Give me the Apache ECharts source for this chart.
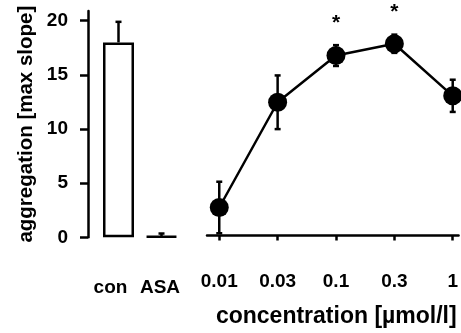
<!DOCTYPE html>
<html><head><meta charset="utf-8">
<script src="https://cdn.jsdelivr.net/npm/echarts@6/dist/echarts.min.js"></script>
<style>html,body{margin:0;padding:0;background:#fff}#c{width:461px;height:333px}</style>
</head><body><div id="c"></div>
<script>
const barCategories = ['con', 'ASA'];
const barMeans = [18.0, 0.1];
const barErrors = [1.9, 0.25];
const concLabels = ['0.01', '0.03', '0.1', '0.3', '1'];
const concMeans = [2.6, 12.4, 16.75, 17.85, 13.0];
const concErrors = [2.4, 2.5, 0.97, 0.85, 1.5];
const significant = ['', '', '*', '*', ''];
const yTicks = [0, 5, 10, 15, 20];
const concTicks = concLabels.map((_, i) => i);

const FONT = '"Liberation Sans", Arial, sans-serif';
const chart = echarts.init(document.getElementById('c'));

function errBar(top, bot, hw) {
  return [
    {type: 'line', shape: {x1: top[0], y1: top[1], x2: bot[0], y2: bot[1]}, style: {stroke: '#000', lineWidth: 2.5}},
    {type: 'line', shape: {x1: top[0] - hw, y1: top[1], x2: top[0] + hw, y2: top[1]}, style: {stroke: '#000', lineWidth: 2.5}},
    {type: 'line', shape: {x1: bot[0] - hw, y1: bot[1], x2: bot[0] + hw, y2: bot[1]}, style: {stroke: '#000', lineWidth: 2.5}}
  ];
}

chart.setOption({
  animation: false,
  textStyle: {fontFamily: FONT},
  grid: [
    {left: 97, top: 11, width: 86, height: 226.3},
    {left: 207, right: 0, top: 11, bottom: 80}
  ],
  xAxis: [
    {
      type: 'category', gridIndex: 0,
      data: barCategories.map((c, i) => ({value: c, textStyle: {padding: i === 0 ? [0, 16, 0, 0] : [0, 3, 0, 0]}})),
      axisLine: {show: false}, axisTick: {show: false},
      axisLabel: {interval: 0, hideOverlap: false, fontSize: 19, fontWeight: 'bold', color: '#000', margin: 41, fontFamily: FONT}
    },
    {
      type: 'value', gridIndex: 1, min: -0.21, max: 4.1,
      axisLine: {show: true, lineStyle: {color: '#000', width: 2.5}},
      axisTick: {show: true, customValues: concTicks, length: 5, lineStyle: {color: '#000', width: 2.5}},
      axisLabel: {customValues: concTicks, formatter: v => concLabels[Math.round(v)], fontSize: 19, fontWeight: 'bold', color: '#000', margin: 21, fontFamily: FONT},
      splitLine: {show: false},
      name: 'concentration [µmol/l]', nameLocation: 'middle', nameGap: 54,
      nameTextStyle: {fontSize: 23, fontWeight: 'bold', color: '#000', fontFamily: FONT, padding: [0, 0, 0, 7]}
    }
  ],
  yAxis: [
    {
      type: 'value', gridIndex: 0, min: 0, max: 20.9, position: 'left', offset: 9,
      axisLine: {show: true, lineStyle: {color: '#000', width: 2.5}},
      axisTick: {show: true, customValues: yTicks, length: 8, lineStyle: {color: '#000', width: 2.5}},
      axisLabel: {customValues: yTicks, fontSize: 19, fontWeight: 'bold', color: '#000', margin: 20, fontFamily: FONT},
      splitLine: {show: false},
      name: 'aggregation [max slope]', nameLocation: 'middle', nameGap: 51,
      nameTextStyle: {fontSize: 20.5, fontWeight: 'bold', color: '#000', fontFamily: FONT}
    },
    {
      type: 'value', gridIndex: 1, min: -1.452, max: 20.9, show: false
    }
  ],
  series: [
    {
      type: 'bar', xAxisIndex: 0, yAxisIndex: 0, data: barMeans, barWidth: 31,
      itemStyle: {color: '#fff', borderColor: '#000', borderWidth: 2.5}, z: 2
    },
    {
      type: 'custom', xAxisIndex: 0, yAxisIndex: 0, z: 3,
      data: barMeans.map((m, i) => [i, m, barErrors[i]]),
      renderItem: (params, api) => {
        const x = api.value(0), m = api.value(1), e = api.value(2);
        const top = api.coord([x, m + e]);
        const mid = api.coord([x, m]);
        return {type: 'group', children: [
          {type: 'line', shape: {x1: top[0], y1: top[1], x2: mid[0], y2: mid[1]}, style: {stroke: '#000', lineWidth: 2.5}},
          {type: 'line', shape: {x1: top[0] - 3, y1: top[1], x2: top[0] + 3, y2: top[1]}, style: {stroke: '#000', lineWidth: 2.5}}
        ]};
      }
    },
    {
      type: 'custom', xAxisIndex: 1, yAxisIndex: 1, z: 3, clip: false,
      data: concMeans.map((m, i) => [i, m, concErrors[i]]),
      renderItem: (params, api) => {
        const x = api.value(0), m = api.value(1), e = api.value(2);
        return {type: 'group', children: errBar(api.coord([x, m + e]), api.coord([x, m - e]), 3)};
      }
    },
    {
      type: 'line', xAxisIndex: 1, yAxisIndex: 1, z: 4, clip: false,
      data: concMeans.map((m, i) => [i, m]),
      symbol: 'circle', symbolSize: 19,
      lineStyle: {color: '#000', width: 2.5},
      itemStyle: {color: '#000'}
    },
    {
      type: 'custom', xAxisIndex: 1, yAxisIndex: 1, z: 5, clip: false,
      data: concMeans.map((m, i) => [i, m]),
      renderItem: (params, api) => {
        const i = params.dataIndex;
        if (!significant[i]) return null;
        const p = api.coord([api.value(0), api.value(1)]);
        return {type: 'text', x: p[0], y: p[1] - 32, style: {text: significant[i], fill: '#000', font: 'bold 21px ' + FONT, align: 'center', verticalAlign: 'middle'}};
      }
    }
  ]
});
</script></body></html>
